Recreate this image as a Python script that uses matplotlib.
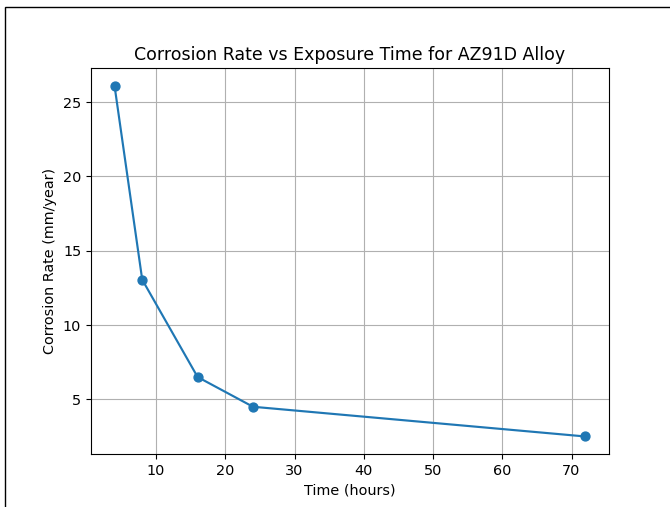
import matplotlib
matplotlib.use('Agg')
from matplotlib import pyplot as plt
from matplotlib.patches import Rectangle

# Exposure time (hours) and measured corrosion rate (mm/year)
time_h = [4, 8, 16, 24, 72]
corrosion_rate = [26.1, 13.05, 6.5, 4.5, 2.5]

# the screenshot looks like a default figure scaled up a little
plt.rcParams['font.size'] = 10.4

fig = plt.figure(figsize=(6.7, 5.07), dpi=100)
ax = fig.add_axes([0.1358, 0.1045, 0.773, 0.761])

ax.plot(time_h, corrosion_rate, marker='o', color='#1f77b4',
        linewidth=1.55, markersize=6.4)
ax.set_title('Corrosion Rate vs Exposure Time for AZ91D Alloy', fontsize=12.5)
ax.set_xlabel('Time (hours)')
ax.set_ylabel('Corrosion Rate (mm/year)')
ax.grid(True)

# frame seen at the left and top edges of the screenshot
fig.patches.append(Rectangle((5 / 670, -0.1), 2, 1 - 7 / 507 + 0.1,
                             transform=fig.transFigure, fill=False,
                             edgecolor='black', linewidth=1))

fig.savefig('out.png', dpi=100)
